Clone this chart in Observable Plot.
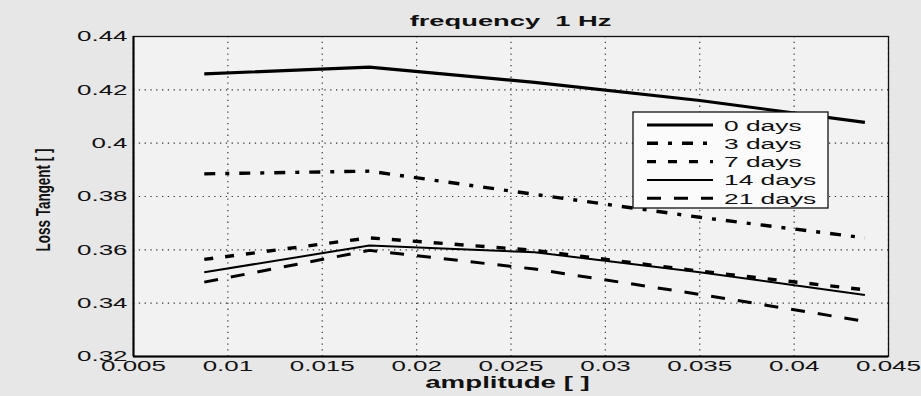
<!DOCTYPE html>
<html>
<head>
<meta charset="utf-8">
<script src="https://cdn.jsdelivr.net/npm/d3@7"></script>
<script src="https://cdn.jsdelivr.net/npm/@observablehq/plot@0.6"></script>
<style>
  html, body { margin: 0; padding: 0; background: #e7e7e7; }
  #chart svg { display: block; }
</style>
</head>
<body>
<div id="chart"></div>
<script>
// ---- data ----
const amplitude = [0.00875, 0.0175, 0.02625, 0.035, 0.04375];
const seriesNames = ["0 days", "3 days", "7 days", "14 days", "21 days"];
const days0  = [0.4260, 0.4285, 0.4228, 0.4160, 0.4078];
const days3  = [0.3885, 0.3895, 0.3808, 0.3722, 0.3645];
const days7  = [0.3564, 0.3645, 0.3598, 0.3520, 0.3450];
const days14 = [0.3516, 0.3616, 0.3591, 0.3516, 0.3431];
const days21 = [0.3479, 0.3598, 0.3528, 0.3433, 0.3332];
const xTicks = [0.005, 0.01, 0.015, 0.02, 0.025, 0.03, 0.035, 0.04, 0.045];
const xTickLabels = ["0.005", "0.01", "0.015", "0.02", "0.025", "0.03", "0.035", "0.04", "0.045"];
const yTicks = [0.32, 0.34, 0.36, 0.38, 0.4, 0.42, 0.44];
const yTickLabels = ["0.32", "0.34", "0.36", "0.38", "0.4", "0.42", "0.44"];
const titleText = "frequency  1 Hz";
const xLabelText = "amplitude [ ]";
const yLabelText = "Loss Tangent [ ]";

// ---- styles ----
const seriesValues = [days0, days3, days7, days14, days21];
const lineStyles = [
  { width: 3.2, dash: null },
  { width: 3.4, dash: "11,10,4,10" },
  { width: 3.4, dash: "9,12" },
  { width: 2,   dash: null },
  { width: 3,   dash: "14,13" }
];

const rows = seriesNames.flatMap((name, s) =>
  amplitude.map((a, i) => ({ series: name, amplitude: a, value: seriesValues[s][i] })));

const xDomain = [xTicks[0], xTicks[xTicks.length - 1]];
const yDomain = [yTicks[0], yTicks[yTicks.length - 1]];

const gridStyle = { stroke: "#222", strokeWidth: 1.2, strokeDasharray: "1.3,4.5", strokeOpacity: 0.9 };
const fontFam = "'Liberation Sans', Arial, sans-serif";

const plot = Plot.plot({
  width: 921,
  height: 396,
  marginLeft: 133,
  marginRight: 33,
  marginTop: 36,
  marginBottom: 40,
  style: { background: "transparent", fontFamily: fontFam, fontSize: "15px", color: "#111" },
  x: { domain: xDomain, ticks: xTicks, tickFormat: d => xTickLabels[xTicks.indexOf(d)] ?? String(d), tickSize: 0, tickPadding: 4, label: null },
  y: { domain: yDomain, ticks: yTicks, tickFormat: d => yTickLabels[yTicks.indexOf(d)] ?? String(d), tickSize: 0, tickPadding: 6, label: null },
  marks: [
    Plot.frame({ fill: "#f2f2f2", stroke: null }),
    Plot.gridX(xTicks, gridStyle),
    Plot.gridY(yTicks, gridStyle),
    ...seriesNames.map((name, s) => Plot.line(rows.filter(r => r.series === name), {
      x: "amplitude", y: "value", stroke: "#000",
      strokeWidth: lineStyles[s].width,
      strokeDasharray: lineStyles[s].dash,
      strokeLinejoin: "round", strokeLinecap: "butt"
    })),
    Plot.frame({ stroke: "#111", strokeWidth: 1.3 }),
    Plot.ruleX([xDomain[0]], { stroke: "#000", strokeWidth: 2 }),
    Plot.ruleY([yDomain[0]], { stroke: "#000", strokeWidth: 2 })
  ]
});

document.getElementById("chart").appendChild(plot);

// widen tick labels (the scanned figure is stretched horizontally)
d3.select(plot).selectAll("text").each(function () {
  const w = this.getComputedTextLength();
  if (w > 0) {
    this.setAttribute("textLength", (w * 1.73).toFixed(1));
    this.setAttribute("lengthAdjust", "spacingAndGlyphs");
  }
});

const svg = d3.select(plot);
const xs = plot.scale("x"), ys = plot.scale("y");
const cx = (xs.range[0] + xs.range[1]) / 2;

// title
svg.append("text")
  .attr("transform", `translate(${cx},25.5) scale(1.95,1)`)
  .attr("text-anchor", "middle")
  .attr("font-family", fontFam).attr("font-weight", "bold").attr("font-size", 14)
  .attr("fill", "#111").style("white-space", "pre")
  .text(titleText);

// x label
svg.append("text")
  .attr("transform", `translate(${cx - 3},388) scale(1.63,1)`)
  .attr("text-anchor", "middle")
  .attr("font-family", fontFam).attr("font-weight", "bold").attr("font-size", 17)
  .attr("fill", "#111").style("white-space", "pre")
  .text(xLabelText);

// y label
svg.append("text")
  .attr("transform", `translate(50,${(ys.range[0] + ys.range[1]) / 2 + 4}) rotate(-90) scale(1,1.5)`)
  .attr("text-anchor", "middle")
  .attr("font-family", fontFam).attr("font-weight", "bold").attr("font-size", 13.5)
  .attr("fill", "#111").style("white-space", "pre")
  .text(yLabelText);

// legend
const lg = svg.append("g").attr("transform", "translate(633,112)");
lg.append("rect").attr("width", 195).attr("height", 96)
  .attr("fill", "#fbfbfb").attr("stroke", "#111").attr("stroke-width", 1.3);
seriesNames.forEach((name, s) => {
  const cy = 13 + s * 18.3;
  lg.append("line").attr("x1", 14).attr("x2", 80).attr("y1", cy).attr("y2", cy)
    .attr("stroke", "#000").attr("stroke-width", lineStyles[s].width)
    .attr("stroke-dasharray", lineStyles[s].dash);
  lg.append("text")
    .attr("transform", `translate(91,${cy + 5.5}) scale(1.7,1)`)
    .attr("text-anchor", "start")
    .attr("font-family", fontFam).attr("font-size", 15.5).attr("fill", "#111")
    .text(name);
});
</script>
</body>
</html>
